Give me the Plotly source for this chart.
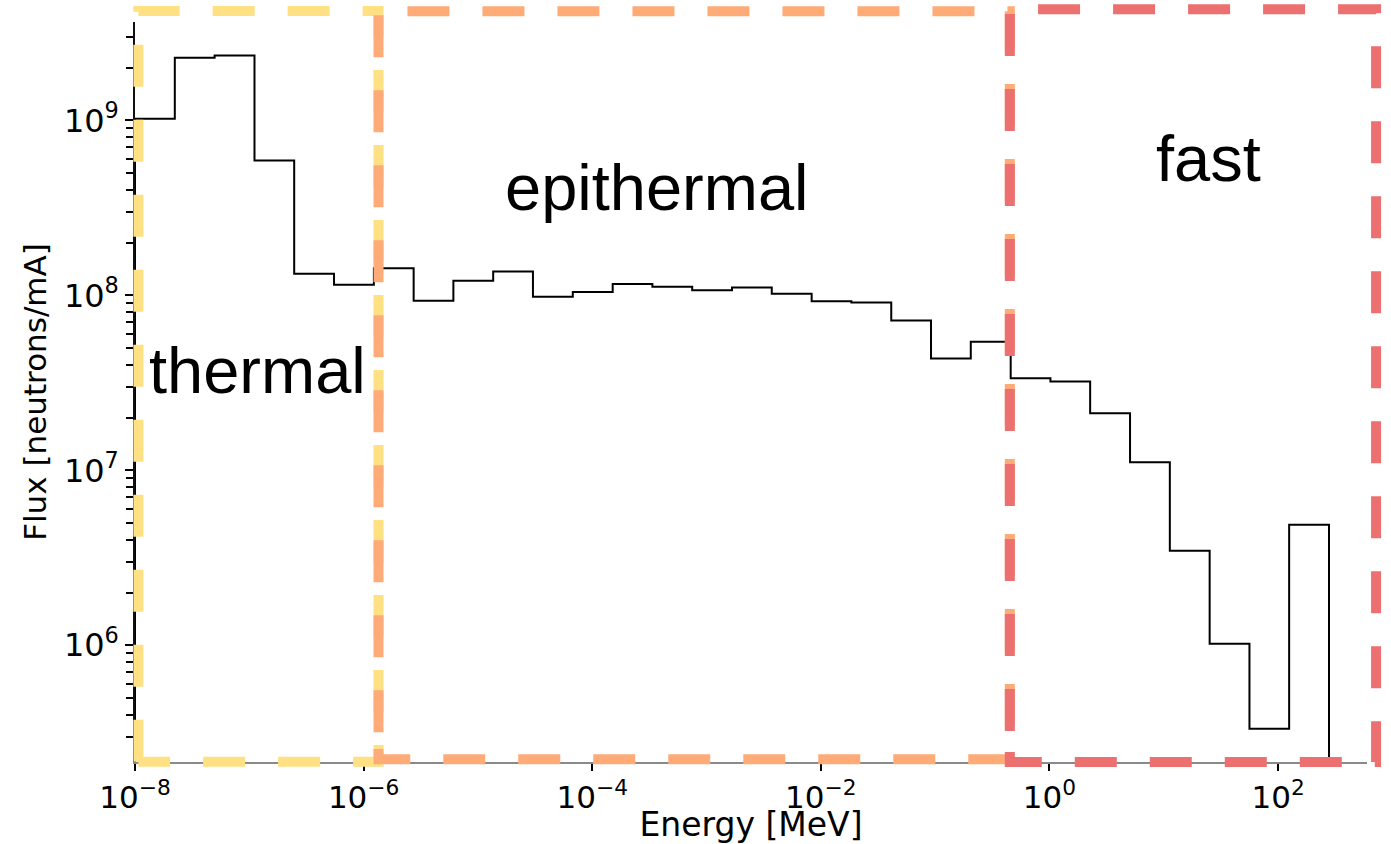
import math
import plotly.graph_objects as go

# ---------------- data ----------------
# 30 logarithmic energy bins (MeV) - bin edges
bin_edges = [1.00e-8, 2.23e-8, 4.97e-8, 1.11e-7, 2.47e-7, 5.51e-7, 1.23e-6, 2.74e-6,
             6.10e-6, 1.36e-5, 3.03e-5, 6.76e-5, 1.51e-4, 3.36e-4, 7.49e-4, 1.67e-3,
             3.72e-3, 8.31e-3, 1.85e-2, 4.13e-2, 9.20e-2, 0.205, 0.458, 1.02, 2.27,
             5.07, 11.3, 25.2, 56.2, 125.0, 279.0]
# flux per bin (neutrons/mA)
flux = [1.02e9, 2.28e9, 2.35e9, 5.9e8, 1.33e8, 1.15e8, 1.43e8, 9.3e7, 1.21e8, 1.37e8,
        9.8e7, 1.045e8, 1.16e8, 1.12e8, 1.07e8, 1.11e8, 1.02e8, 9.25e7, 9.1e7, 7.18e7,
        4.35e7, 5.42e7, 3.36e7, 3.22e7, 2.12e7, 1.11e7, 3.47e6, 1.02e6, 3.33e5, 4.88e6]
hist_floor = 1e4  # step-histogram baseline (below the visible range)

# energy regions (MeV)
region_names = ["thermal", "epithermal", "fast"]
region_lo = [1.07e-8, 1.35e-6, 0.45]
region_hi = [1.35e-6, 0.45, 720.0]
region_colors = ["#FFE082", "#FFAB78", "#EC7070"]

x_tickvals = [1e-8, 1e-6, 1e-4, 1e-2, 1e0, 1e2]
x_ticktext = ["10<sup>\u22128</sup>", "10<sup>\u22126</sup>", "10<sup>\u22124</sup>",
              "10<sup>\u22122</sup>", "10<sup>0</sup>", "10<sup>2</sup>"]
y_tickvals = [1e6, 1e7, 1e8, 1e9]
y_ticktext = ["10<sup>6</sup>", "10<sup>7</sup>", "10<sup>8</sup>", "10<sup>9</sup>"]
y_minor = [m * 10 ** e for e in (5, 6, 7, 8, 9) for m in range(2, 10)
           if 2.15e5 < m * 10 ** e < 3.6e9]

# ---------------- layout geometry ----------------
W, H = 1391, 844
ML, MR, MT, MB = 135, 24, 22, 82
PW, PH = W - ML - MR, H - MT - MB
X_RANGE = [-8.0, 2.778]
Y_RANGE = [5.333, 9.562]


def xpaper(e):
    return (math.log10(e) - X_RANGE[0]) / (X_RANGE[1] - X_RANGE[0])


def px_to_py(px):
    return px / PH


# ---------------- figure ----------------
step_x = [bin_edges[0]] + bin_edges + [bin_edges[-1]]
step_y = [hist_floor] + flux + [flux[-1], hist_floor]

fig = go.Figure()
fig.add_trace(go.Scatter(x=step_x, y=step_y, mode="lines", line_shape="hv",
                         line=dict(color="black", width=2), showlegend=False,
                         hoverinfo="skip"))

# dashed region rectangles (bottom / top in paper units, dash start offset in px)
rect_bottom = [0.0004, 0.0036, 0.0]
rect_top = [1.0149, 1.0145, 1.0172]
dash_offset_px = [0, 27, 31]
shapes = []
for lo, hi, col, yb, yt, off in zip(region_lo, region_hi, region_colors,
                                    rect_bottom, rect_top, dash_offset_px):
    x0, x1 = xpaper(lo), xpaper(hi)
    ys = yb + px_to_py(off)
    path = (f"M {x0},{ys} L {x0},{yt} L {x1},{yt} L {x1},{yb} "
            f"L {x0},{yb} L {x0},{ys}")
    shapes.append(dict(type="path", xref="paper", yref="paper", path=path,
                       line=dict(color=col, width=10, dash="42px,33px"),
                       layer="above"))

label_x = [0.0994, 0.4233, 0.8713]
label_y = [0.529, 0.7764, 0.8149]
annotations = []
for name, lx, ly in zip(region_names, label_x, label_y):
    annotations.append(dict(text=name, x=lx, y=ly, xref="paper", yref="paper",
                            xanchor="center", yanchor="middle", showarrow=False,
                            font=dict(family="Liberation Sans, Arial", size=65,
                                      color="black")))

fig.update_layout(
    width=W, height=H,
    margin=dict(l=ML, r=MR, t=MT, b=MB, autoexpand=False),
    paper_bgcolor="white", plot_bgcolor="white",
    shapes=shapes, annotations=annotations, showlegend=False,
    font=dict(family="DejaVu Sans", color="black"),
)
fig.update_xaxes(
    type="log", range=X_RANGE, tickmode="array", tickvals=x_tickvals,
    ticktext=x_ticktext, ticks="outside", ticklen=7, tickwidth=2,
    tickcolor="black", showline=True, linecolor="#8a8a8a", linewidth=1.5,
    showgrid=False, zeroline=False, automargin=False,
    tickfont=dict(family="DejaVu Sans", size=31, color="black"),
    title=dict(text="Energy [MeV]", standoff=16,
               font=dict(family="DejaVu Sans", size=33, color="black")),
)
fig.update_yaxes(
    type="log", range=Y_RANGE, tickmode="array", tickvals=y_tickvals,
    ticktext=y_ticktext, ticks="outside", ticklen=8, tickwidth=2,
    tickcolor="black", showline=True, linecolor="#111111", linewidth=1.5,
    showgrid=False, zeroline=False, automargin=False,
    minor=dict(tickmode="array", tickvals=y_minor, ticks="outside", ticklen=7,
               tickwidth=1.5, tickcolor="black", showgrid=False),
    tickfont=dict(family="DejaVu Sans", size=32, color="black"),
    title=dict(text="Flux [neutrons/mA]", standoff=8,
               font=dict(family="DejaVu Sans", size=31, color="black")),
)

fig.write_html("out.html")
